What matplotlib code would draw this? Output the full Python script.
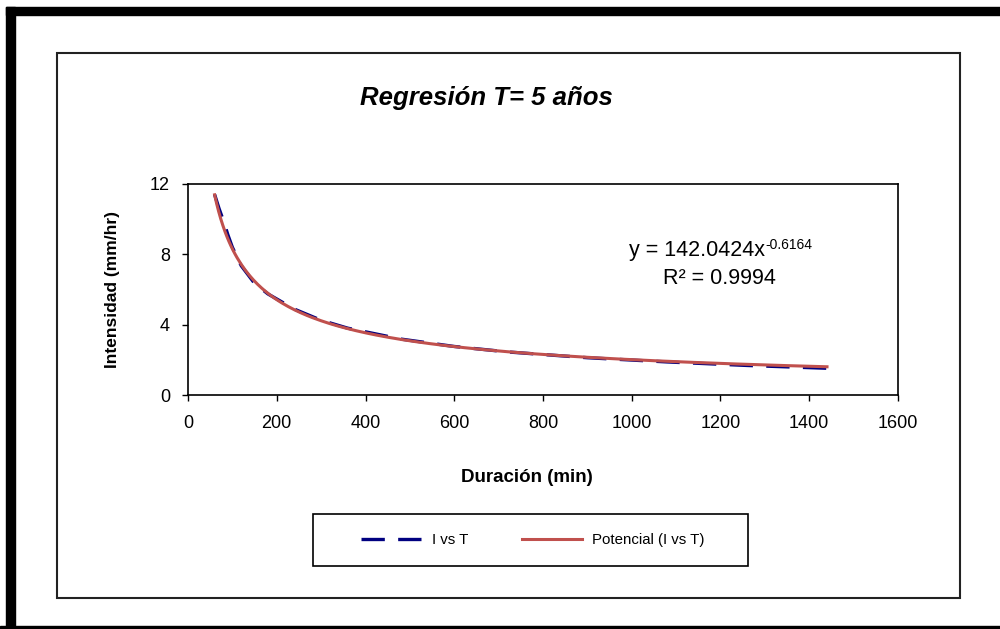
import numpy as np
import matplotlib
matplotlib.use("Agg")
import matplotlib.pyplot as plt
from matplotlib.patches import Rectangle

plt.rcParams['font.family'] = ['Liberation Sans', 'DejaVu Sans']

# datos
duracion = [60, 70, 80, 90, 100, 120, 150, 180, 240, 300, 360, 480, 600, 720, 900, 1080, 1260, 1440]
intensidad = [11.4, 10.6, 9.9, 9.1, 8.4, 7.35, 6.35, 5.75, 4.88, 4.25, 3.80, 3.18, 2.76, 2.45, 2.12, 1.88, 1.68, 1.52]

# linea de tendencia potencial (ecuacion mostrada en la grafica)
coef_a = 142.0424
coef_b = -0.6164
r2 = 0.9994

x_ticks = [0, 200, 400, 600, 800, 1000, 1200, 1400, 1600]
y_ticks = [0, 4, 8, 12]

W, H = 1000, 629
fig = plt.figure(figsize=(10, 6.29), dpi=100)

def fx(px):
    return px / W

def fy(py):
    return 1 - py / H

# marco negro grueso exterior
fig.patches.append(Rectangle((fx(6), 0), fx(9), (629 - 7) / H, transform=fig.transFigure, color='black', zorder=0))
fig.patches.append(Rectangle((fx(6), fy(15)), 1, 8 / H, transform=fig.transFigure, color='black', zorder=0))
fig.patches.append(Rectangle((0, 0), 1, 3 / H, transform=fig.transFigure, color='black', zorder=0))
# marco interior
fig.patches.append(Rectangle((fx(57), fy(598)), fx(960 - 57), (598 - 53) / H, transform=fig.transFigure,
                             fill=False, edgecolor='#222222', lw=1.5, zorder=0))

ax = fig.add_axes([fx(188), fy(395), fx(898 - 188), (395 - 184) / H])

xs = np.linspace(duracion[0], duracion[-1], 300)
ax.plot(duracion, intensidad, color='#000080', lw=2.4, dashes=(7, 4), label='I vs T', zorder=2)
ax.plot(xs, coef_a * xs ** coef_b, color='#C0504D', lw=2.2, label='Potencial (I vs T)', zorder=3)

ax.set_xlim(0, 1600)
ax.set_ylim(0, 12)
ax.set_xticks(x_ticks)
ax.set_yticks(y_ticks)
ax.tick_params(direction='out', length=4, width=1, labelsize=13)
ax.tick_params(axis='x', pad=10.5)
ax.tick_params(axis='y', pad=9)
for s in ax.spines.values():
    s.set_linewidth(1.2)

ax.set_xlabel('Duración (min)', fontsize=13.5, fontweight='bold', va='center')
ax.xaxis.set_label_coords(0.477, -0.389)
ax.set_ylabel('Intensidad (mm/hr)', fontsize=12.5, fontweight='bold', va='center')
ax.yaxis.set_label_coords(-0.107, 0.5)

eq = ax.text(0.717, 0.687, 'y = %.4fx' % coef_a, transform=ax.transAxes,
             ha='center', va='center', fontsize=15.5)
ax.annotate('%.4f' % coef_b, xy=(1, 1), xycoords=eq, xytext=(0.5, 1), textcoords='offset points',
            ha='left', va='top', fontsize=10)
ax.text(0.749, 0.55, 'R² = %.4f' % r2, transform=ax.transAxes, ha='center', va='center', fontsize=15.5)

fig.text(fx(486), fy(98), 'Regresión T= 5 años', ha='center', va='center',
         fontsize=18.5, fontweight='bold', fontstyle='italic')

# leyenda
fig.patches.append(Rectangle((fx(313), fy(566)), fx(748 - 313), (566 - 514) / H, transform=fig.transFigure,
                             fill=False, edgecolor='black', lw=1.2))
fig.legend(loc='center', bbox_to_anchor=(fx(533), fy(540)), ncol=2, frameon=False, fontsize=10.8,
           handlelength=4.0, columnspacing=3.6, handletextpad=0.7)

fig.savefig('out.png', dpi=100)
